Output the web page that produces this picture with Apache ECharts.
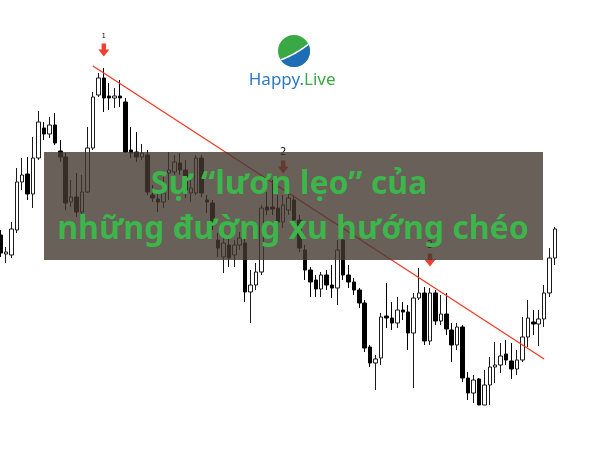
<!DOCTYPE html>
<html>
<head>
<meta charset="utf-8">
<script src="https://cdn.jsdelivr.net/npm/echarts@6/dist/echarts.min.js"></script>
<style>html,body{margin:0;padding:0;background:#fff;}#c{width:600px;height:450px;}</style>
</head>
<body>
<div id="c"></div>
<script>
// Candle values (arbitrary price units)
const opens  = [215,196,195,220,268,276,256,292,322,316,325,299,293,248,253,238,258,302,355,372,354,352,354,348,300,298,293,295,255,251,248,277,278,287,280,257,257,292,250,247,210,193,205,195,205,207,158,165,178,243,243,242,228,240,250,230,200,180,170,161,175,165,162,210,175,168,160,147,103,87,92,134,132,127,140,138,117,152,157,109,157,129,136,120,105,123,72,57,71,45,65,83,85,96,89,81,90,113,128,126,131,157,192];
const closes = [197,198,221,268,275,256,292,328,316,325,307,293,247,253,238,258,302,353,372,352,352,354,352,298,297,293,297,258,252,248,257,280,288,280,260,262,292,257,248,227,202,207,192,205,212,158,165,178,242,240,241,228,245,252,230,202,180,168,161,175,165,162,200,175,168,160,147,102,87,91,133,132,127,140,138,117,152,157,109,157,129,136,121,105,123,72,57,70,45,65,83,85,94,90,81,90,113,132,126,131,157,192,221];
const lows   = [193,187,192,217,260,250,242,290,310,312,305,288,240,243,233,235,257,300,353,338,340,342,343,297,292,288,290,255,248,238,242,250,275,275,252,248,255,253,237,220,193,177,183,183,200,148,127,160,175,235,235,225,222,235,225,198,170,153,153,153,160,152,145,170,162,155,142,98,83,60,85,122,120,122,130,100,62,150,105,105,125,125,115,88,100,68,50,47,45,45,45,67,77,85,71,75,88,103,115,104,123,153,185];
const highs  = [220,203,228,282,292,293,313,339,328,333,337,310,297,270,277,275,323,358,377,382,367,362,370,352,323,318,306,300,265,258,273,298,295,297,290,270,295,295,255,250,217,212,213,210,218,212,180,187,245,258,270,255,255,262,255,235,205,183,175,178,180,185,210,215,185,172,162,150,105,95,137,167,148,153,148,145,157,182,163,162,160,155,157,127,127,125,78,75,72,80,93,108,107,110,107,100,133,150,140,140,165,202,223];
const categories = opens.map((_, i) => 'K' + (i + 1));

// Trend line anchors and signal arrows (category index, price)
const trendStart = [17, 384];
const trendEnd = [100, 91];
const arrowNames = ['1', '2', '3'];
const arrowIdx = [19, 52, 79];
const arrowPrice = [400, 283, 190];

const titleLines = ['Sự \u201clươn lẹo\u201d của', 'những đường xu hướng chéo'];

const candleData = opens.map((o, i) => [o, closes[i], lows[i], highs[i]]);

// Logo geometry (decoration)
const lc = [294, 51], lr = 16;
const aA = -0.44, aB = 2.55;
const A = [lc[0] + lr * Math.cos(aA), lc[1] + lr * Math.sin(aA)];
const B = [lc[0] + lr * Math.cos(aB), lc[1] + lr * Math.sin(aB)];
const ctrl = [296, 54];
const bluePts = [];
for (let k = 0; k <= 40; k++) {
  const a = aA + (aB - aA) * k / 40;
  bluePts.push([lc[0] + lr * Math.cos(a), lc[1] + lr * Math.sin(a)]);
}
const curvePts = [];
for (let k = 0; k <= 30; k++) {
  const t = k / 30;
  const x = (1 - t) * (1 - t) * B[0] + 2 * (1 - t) * t * ctrl[0] + t * t * A[0];
  const y = (1 - t) * (1 - t) * B[1] + 2 * (1 - t) * t * ctrl[1] + t * t * A[1];
  curvePts.push([x, y]);
}
for (let k = 1; k < curvePts.length - 1; k++) bluePts.push(curvePts[k]);

const chart = echarts.init(document.getElementById('c'), null, {renderer: 'canvas'});
chart.setOption({
  animation: false,
  backgroundColor: '#ffffff',
  grid: {left: 0.5, right: 45, top: 0, bottom: 0},
  xAxis: {type: 'category', data: categories, boundaryGap: false, show: false},
  yAxis: {type: 'value', min: 0, max: 450, show: false},
  series: [{
    type: 'candlestick',
    data: candleData,
    barWidth: 4,
    clip: false,
    itemStyle: {color: '#ffffff', color0: '#000000', borderColor: '#1a1a1a', borderColor0: '#000000', borderWidth: 1},
    markLine: {
      silent: true,
      symbol: ['none', 'none'],
      label: {show: false},
      lineStyle: {color: '#f03a28', width: 1.3, type: 'solid'},
      data: [[{coord: [categories[trendStart[0]], trendStart[1]]}, {coord: [categories[trendEnd[0]], trendEnd[1]]}]]
    },
    markPoint: {
      silent: true,
      symbol: 'path://M3,0L7,0L7,6L10,6L5,13L0,6L3,6Z',
      symbolSize: [11, 13],
      itemStyle: {color: '#ef3f2f'},
      label: {show: true, position: 'top', distance: 3, color: '#111', fontSize: 10, fontFamily: 'DejaVu Sans', formatter: '{b}'},
      data: arrowNames.map((n, i) => ({
        name: n,
        coord: [categories[arrowIdx[i]], arrowPrice[i]],
        label: i === 0 ? {fontSize: 7, distance: 4} : {}
      }))
    }
  }],
  graphic: [
    {type: 'rect', z: 100, shape: {x: 44, y: 152, width: 499, height: 108}, style: {fill: 'rgba(66,56,48,0.8)'}},
    {type: 'text', z: 101, style: {text: titleLines[0], x: 289, y: 185, align: 'center', verticalAlign: 'middle', fill: '#3cb54a', font: 'bold 32px "Noto Sans"'}},
    {type: 'text', z: 101, style: {text: titleLines[1], x: 293, y: 230, align: 'center', verticalAlign: 'middle', fill: '#3cb54a', font: 'bold 32px "Noto Sans"'}},
    {type: 'circle', z: 100, shape: {cx: lc[0], cy: lc[1], r: lr}, style: {fill: '#3aa845'}},
    {type: 'polygon', z: 101, shape: {points: bluePts}, style: {fill: '#1f6db5'}},
    {type: 'polyline', z: 102, shape: {points: curvePts}, style: {stroke: '#ffffff', lineWidth: 1.5, fill: null}},
    {type: 'text', z: 101, style: {text: 'Happy.', x: 304, y: 80, align: 'right', verticalAlign: 'middle', fill: '#2b7cc3', font: '17px "Noto Sans"'}},
    {type: 'text', z: 101, style: {text: 'Live', x: 304, y: 80, align: 'left', verticalAlign: 'middle', fill: '#3aa845', font: '17px "Noto Sans"'}}
  ]
});
</script>
</body>
</html>
